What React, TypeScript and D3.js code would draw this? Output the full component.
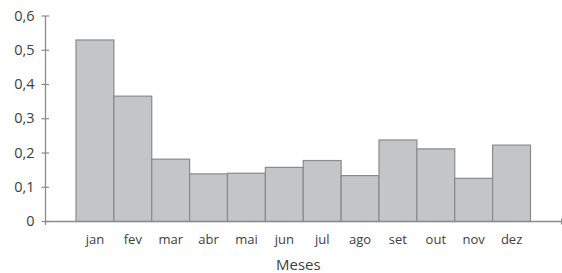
import { useEffect, useRef } from "react"
import * as d3 from "d3"

const months = ["jan", "fev", "mar", "abr", "mai", "jun", "jul", "ago", "set", "out", "nov", "dez"]
const values = [0.53, 0.366, 0.182, 0.139, 0.141, 0.158, 0.178, 0.134, 0.238, 0.212, 0.126, 0.223]
const yTicks = [0, 0.1, 0.2, 0.3, 0.4, 0.5, 0.6]
const xTitle = "Meses"

export default function App() {
  const svgRef = useRef<SVGSVGElement>(null)

  useEffect(() => {
    if (!svgRef.current) return
    const svg = d3.select(svgRef.current)
    svg.selectAll("*").remove()

    const width = 562
    const height = 273
    const axisX = 45.5
    const font = "'Open Sans', 'Noto Sans', sans-serif"
    const textColor = "#404040"
    const axisColor = "#8c8c8c"

    const x = d3.scaleBand<string>().domain(months).range([76, 530.5]).padding(0)
    const y = d3.scaleLinear().domain([0, 0.6]).range([221.5, 16])

    const fmt = d3.formatLocale({ decimal: ",", thousands: ".", grouping: [3], currency: ["R$", ""] }).format("~g")

    svg.attr("width", width).attr("height", height)

    // bars
    svg
      .selectAll(".bar")
      .data(values)
      .enter()
      .append("rect")
      .attr("class", "bar")
      .attr("x", (_, i) => x(months[i]) || 0)
      .attr("y", (d) => y(d))
      .attr("width", x.bandwidth())
      .attr("height", (d) => y(0) - y(d))
      .attr("fill", "#c4c5c7")
      .attr("stroke", "#8a8a8a")
      .attr("stroke-width", 1.2)

    // x axis line
    svg
      .append("line")
      .attr("x1", axisX)
      .attr("x2", 561.5)
      .attr("y1", y(0))
      .attr("y2", y(0))
      .attr("stroke", axisColor)
      .attr("stroke-width", 1.3)
    svg
      .append("line")
      .attr("x1", 561.5)
      .attr("x2", 561.5)
      .attr("y1", y(0) - 3)
      .attr("y2", y(0) + 3)
      .attr("stroke", axisColor)
      .attr("stroke-width", 1)

    // y axis line
    svg
      .append("line")
      .attr("x1", axisX)
      .attr("x2", axisX)
      .attr("y1", y(0.6))
      .attr("y2", y(0) + 3.5)
      .attr("stroke", axisColor)
      .attr("stroke-width", 1.3)

    const ticks = svg.selectAll(".ytick").data(yTicks).enter().append("g").attr("class", "ytick")
    ticks
      .append("line")
      .attr("x1", axisX - 4)
      .attr("x2", axisX + 3.5)
      .attr("y1", (d) => y(d))
      .attr("y2", (d) => y(d))
      .attr("stroke", axisColor)
      .attr("stroke-width", 1.2)
    ticks
      .append("text")
      .attr("x", 34.5)
      .attr("y", (d) => y(d))
      .attr("dy", "0.32em")
      .attr("text-anchor", "end")
      .attr("font-family", font)
      .attr("font-size", 14.5)
      .attr("fill", textColor)
      .text((d) => fmt(d))

    // month labels
    svg
      .selectAll(".mlabel")
      .data(months)
      .enter()
      .append("text")
      .attr("class", "mlabel")
      .attr("x", (d) => (x(d) || 0) + x.bandwidth() / 2)
      .attr("y", 244)
      .attr("text-anchor", "middle")
      .attr("font-family", font)
      .attr("font-size", 13)
      .attr("fill", textColor)
      .text((d) => d)

    svg
      .append("text")
      .attr("x", (x("jun") || 0) + x.bandwidth() * 0.87)
      .attr("y", 270)
      .attr("text-anchor", "middle")
      .attr("font-family", font)
      .attr("font-size", 15)
      .attr("fill", textColor)
      .text(xTitle)
  }, [])

  return (
    <div style={{ position: "absolute", left: 0, top: 0 }}>
      <svg ref={svgRef} style={{ display: "block" }} />
    </div>
  )
}
